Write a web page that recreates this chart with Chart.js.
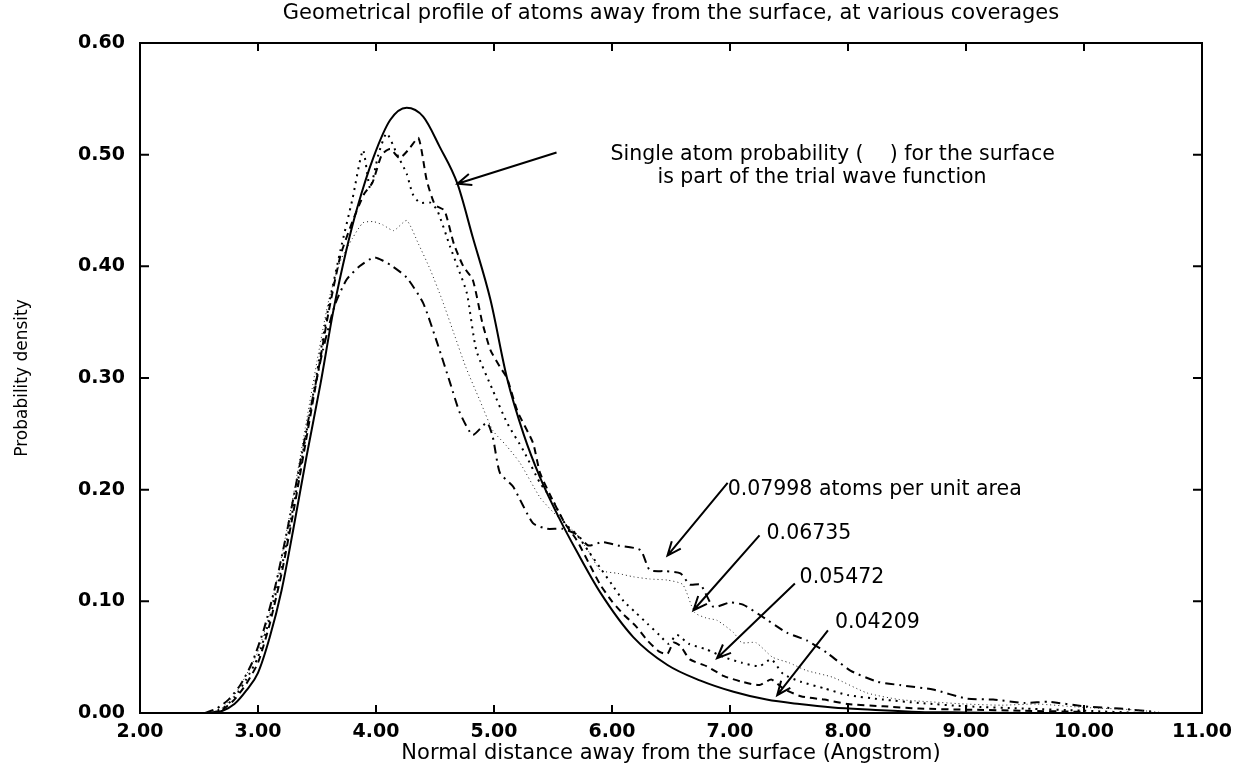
<html>
<head>
<meta charset="utf-8">
<title>Geometrical profile of atoms</title>
<script src="https://cdn.jsdelivr.net/npm/chart.js@4.4.1/dist/chart.umd.min.js"></script>
<style>
  body { margin: 0; background: #fff; }
  .chart-container { width: 1235px; height: 767px; position: relative; }
</style>
</head>
<body>
<div class="chart-container"><canvas id="myChart"></canvas></div>
<script>
// x ticks / y ticks
const xTicks = [2, 3, 4, 5, 6, 7, 8, 9, 10, 11];
const yTicks = [0, 0.1, 0.2, 0.3, 0.4, 0.5, 0.6];

// single atom probability (trial wave function), solid
const trialX = [2.60, 2.70, 2.80, 2.90, 3.00, 3.10, 3.20, 3.30, 3.41, 3.53, 3.64, 3.75, 3.84, 3.98, 4.12, 4.26, 4.40, 4.54, 4.69, 4.82, 4.97, 5.11, 5.25, 5.39, 5.55, 5.70, 5.90, 6.18, 6.47, 6.75, 7.03, 7.31, 7.59, 7.87, 8.20, 8.60, 9.00, 9.50, 10.00];
const trialY = [0.000, 0.002, 0.008, 0.020, 0.036, 0.068, 0.110, 0.165, 0.229, 0.295, 0.361, 0.415, 0.452, 0.498, 0.531, 0.542, 0.534, 0.507, 0.474, 0.426, 0.370, 0.300, 0.250, 0.211, 0.175, 0.145, 0.108, 0.068, 0.043, 0.029, 0.019, 0.012, 0.008, 0.005, 0.003, 0.001, 0.0005, 0, 0];

// 0.04209 atoms per unit area, dashed
const c04209X = [2.60, 2.70, 2.80, 2.90, 3.00, 3.10, 3.20, 3.30, 3.40, 3.50, 3.60, 3.70, 3.80, 3.90, 3.97, 4.05, 4.12, 4.20, 4.28, 4.36, 4.43, 4.50, 4.58, 4.66, 4.74, 4.82, 4.90, 4.97, 5.05, 5.11, 5.20, 5.33, 5.39, 5.50, 5.60, 5.70, 5.80, 5.90, 6.00, 6.10, 6.20, 6.30, 6.40, 6.47, 6.52, 6.58, 6.66, 6.80, 6.95, 7.10, 7.25, 7.35, 7.45, 7.60, 7.80, 8.00, 8.30, 8.60, 9.00, 9.50, 10.00];
const c04209Y = [0, 0.003, 0.012, 0.026, 0.045, 0.080, 0.125, 0.180, 0.240, 0.300, 0.360, 0.410, 0.440, 0.465, 0.475, 0.500, 0.505, 0.497, 0.505, 0.515, 0.477, 0.455, 0.450, 0.420, 0.400, 0.388, 0.350, 0.325, 0.310, 0.300, 0.270, 0.242, 0.215, 0.190, 0.170, 0.155, 0.135, 0.115, 0.100, 0.088, 0.078, 0.065, 0.055, 0.053, 0.063, 0.060, 0.048, 0.042, 0.033, 0.028, 0.025, 0.030, 0.022, 0.015, 0.012, 0.008, 0.006, 0.004, 0.003, 0.002, 0.001];

// 0.05472, dotted
const c05472X = [2.60, 2.70, 2.80, 2.90, 3.00, 3.10, 3.20, 3.30, 3.40, 3.50, 3.60, 3.70, 3.80, 3.89, 3.95, 4.02, 4.09, 4.18, 4.26, 4.31, 4.37, 4.46, 4.52, 4.63, 4.69, 4.77, 4.85, 4.99, 5.11, 5.25, 5.39, 5.50, 5.60, 5.70, 5.80, 5.90, 6.00, 6.10, 6.20, 6.30, 6.40, 6.48, 6.55, 6.65, 6.80, 6.95, 7.10, 7.25, 7.35, 7.45, 7.60, 7.80, 8.00, 8.30, 8.60, 9.00, 9.50, 10.00, 10.50];
const c05472Y = [0, 0.004, 0.014, 0.030, 0.050, 0.085, 0.130, 0.185, 0.245, 0.305, 0.365, 0.415, 0.460, 0.504, 0.470, 0.500, 0.519, 0.500, 0.483, 0.465, 0.457, 0.457, 0.450, 0.417, 0.400, 0.376, 0.325, 0.289, 0.260, 0.235, 0.206, 0.190, 0.170, 0.160, 0.145, 0.130, 0.115, 0.100, 0.090, 0.080, 0.070, 0.062, 0.070, 0.062, 0.057, 0.050, 0.045, 0.042, 0.048, 0.035, 0.028, 0.022, 0.016, 0.012, 0.009, 0.006, 0.004, 0.002, 0];

// 0.06735, fine dots
const c06735X = [2.60, 2.70, 2.80, 2.90, 3.00, 3.10, 3.20, 3.30, 3.40, 3.50, 3.60, 3.70, 3.80, 3.89, 3.98, 4.06, 4.15, 4.26, 4.36, 4.46, 4.56, 4.66, 4.76, 4.88, 4.99, 5.10, 5.22, 5.39, 5.50, 5.60, 5.70, 5.80, 5.90, 6.05, 6.18, 6.32, 6.47, 6.60, 6.70, 6.80, 6.89, 7.03, 7.10, 7.22, 7.36, 7.50, 7.65, 7.87, 8.16, 8.44, 8.70, 9.00, 9.30, 9.60, 10.00, 10.40, 10.70];
const c06735Y = [0, 0.005, 0.016, 0.034, 0.055, 0.090, 0.140, 0.195, 0.255, 0.315, 0.370, 0.405, 0.425, 0.439, 0.440, 0.437, 0.432, 0.441, 0.420, 0.397, 0.370, 0.340, 0.310, 0.280, 0.253, 0.240, 0.224, 0.193, 0.180, 0.170, 0.160, 0.145, 0.128, 0.125, 0.122, 0.120, 0.119, 0.115, 0.090, 0.085, 0.083, 0.072, 0.063, 0.063, 0.050, 0.045, 0.038, 0.032, 0.018, 0.012, 0.010, 0.008, 0.007, 0.008, 0.005, 0.003, 0];

// 0.07998, dash-dot
const c07998X = [2.55, 2.65, 2.75, 2.85, 2.95, 3.05, 3.15, 3.25, 3.35, 3.45, 3.55, 3.65, 3.75, 3.86, 3.98, 4.06, 4.14, 4.26, 4.40, 4.52, 4.63, 4.71, 4.82, 4.94, 4.99, 5.05, 5.16, 5.33, 5.45, 5.58, 5.70, 5.80, 5.92, 6.05, 6.24, 6.32, 6.45, 6.58, 6.66, 6.75, 6.86, 7.00, 7.11, 7.25, 7.48, 7.65, 7.82, 8.02, 8.25, 8.44, 8.72, 9.00, 9.23, 9.50, 9.70, 10.00, 10.30, 10.60];
const c07998Y = [0, 0.004, 0.012, 0.025, 0.045, 0.075, 0.115, 0.165, 0.220, 0.275, 0.325, 0.365, 0.388, 0.400, 0.408, 0.405, 0.400, 0.390, 0.367, 0.331, 0.295, 0.269, 0.249, 0.260, 0.247, 0.215, 0.203, 0.170, 0.165, 0.165, 0.160, 0.150, 0.153, 0.150, 0.146, 0.128, 0.127, 0.125, 0.115, 0.115, 0.095, 0.099, 0.097, 0.088, 0.072, 0.065, 0.054, 0.038, 0.028, 0.025, 0.021, 0.013, 0.012, 0.009, 0.010, 0.006, 0.004, 0.001];

const chartTitle = 'Geometrical profile of atoms away from the surface, at various coverages';
const xTitle = 'Normal distance away from the surface (Angstrom)';
const yTitle = 'Probability density';

// notes: text, anchor (data), arrow from -> to (data)
const notes = [
  { text: 'Single atom probability (    ) for the surface', at: [7.87, 0.500], align: 'center', from: [5.53, 0.502], to: [4.69, 0.474] },
  { text: 'is part of the trial wave function', at: [7.78, 0.479], align: 'center' },
  { text: '0.07998 atoms per unit area', at: [6.98, 0.200], align: 'left', from: [6.98, 0.206], to: [6.47, 0.141] },
  { text: '0.06735', at: [7.31, 0.161], align: 'left', from: [7.25, 0.159], to: [6.69, 0.092] },
  { text: '0.05472', at: [7.59, 0.121], align: 'left', from: [7.55, 0.116], to: [6.89, 0.049] },
  { text: '0.04209', at: [7.89, 0.081], align: 'left', from: [7.83, 0.074], to: [7.40, 0.016] }
];

function pts(xs, ys) {
  return xs.map(function (x, i) { return { x: x, y: ys[i] }; });
}

Chart.defaults.font.family = "'DejaVu Sans', sans-serif";
Chart.defaults.color = '#000';

// frame, inward ticks, title and arrows
const decor = {
  id: 'decor',
  afterDraw: function (chart) {
    const ctx = chart.ctx;
    const a = chart.chartArea;
    const sx = chart.scales.x, sy = chart.scales.y;
    ctx.save();
    ctx.strokeStyle = '#000';
    ctx.lineWidth = 2;
    ctx.setLineDash([]);
    ctx.strokeRect(a.left, a.top, a.right - a.left, a.bottom - a.top);
    ctx.beginPath();
    xTicks.forEach(function (v) {
      const px = sx.getPixelForValue(v);
      ctx.moveTo(px, a.bottom); ctx.lineTo(px, a.bottom - 8);
      ctx.moveTo(px, a.top); ctx.lineTo(px, a.top + 8);
    });
    yTicks.forEach(function (v) {
      const py = sy.getPixelForValue(v);
      ctx.moveTo(a.left, py); ctx.lineTo(a.left + 9, py);
      ctx.moveTo(a.right, py); ctx.lineTo(a.right - 9, py);
    });
    ctx.stroke();

    ctx.fillStyle = '#000';
    ctx.font = "21px 'DejaVu Sans'";
    ctx.textAlign = 'center';
    ctx.textBaseline = 'middle';
    ctx.fillText(chartTitle, (a.left + a.right) / 2, 14);

    ctx.font = "20.5px 'DejaVu Sans'";
    notes.forEach(function (n) {
      ctx.textAlign = n.align;
      ctx.fillText(n.text, sx.getPixelForValue(n.at[0]), sy.getPixelForValue(n.at[1]));
      if (!n.from) return;
      const x0 = sx.getPixelForValue(n.from[0]), y0 = sy.getPixelForValue(n.from[1]);
      const x1 = sx.getPixelForValue(n.to[0]), y1 = sy.getPixelForValue(n.to[1]);
      const ang = Math.atan2(y1 - y0, x1 - x0);
      ctx.beginPath();
      ctx.moveTo(x0, y0); ctx.lineTo(x1, y1);
      ctx.moveTo(x1 - 15 * Math.cos(ang - 0.4), y1 - 15 * Math.sin(ang - 0.4));
      ctx.lineTo(x1, y1);
      ctx.lineTo(x1 - 15 * Math.cos(ang + 0.4), y1 - 15 * Math.sin(ang + 0.4));
      ctx.stroke();
    });
    ctx.restore();
  }
};

const ctx = document.getElementById('myChart').getContext('2d');
const chart = new Chart(ctx, {
  type: 'line',
  data: {
    datasets: [
      { label: 'trial', data: pts(trialX, trialY), borderColor: '#000', borderWidth: 2, tension: 0.4, cubicInterpolationMode: 'monotone' },
      { label: '0.04209', data: pts(c04209X, c04209Y), borderColor: '#000', borderWidth: 2, borderDash: [7, 5], tension: 0.2 },
      { label: '0.05472', data: pts(c05472X, c05472Y), borderColor: '#000', borderWidth: 2, borderDash: [2, 5], tension: 0.2 },
      { label: '0.06735', data: pts(c06735X, c06735Y), borderColor: '#222', borderWidth: 1, borderDash: [1, 3], tension: 0.2 },
      { label: '0.07998', data: pts(c07998X, c07998Y), borderColor: '#000', borderWidth: 2, borderDash: [9, 5, 2, 5], tension: 0.2 }
    ]
  },
  options: {
    responsive: true,
    maintainAspectRatio: false,
    animation: false,
    devicePixelRatio: 1,
    elements: { point: { radius: 0 } },
    layout: { padding: { left: 0, right: 33, top: 43, bottom: 0 } },
    plugins: { legend: { display: false }, tooltip: { enabled: false } },
    scales: {
      x: {
        type: 'linear', min: 2, max: 11,
        afterBuildTicks: function (s) { s.ticks = xTicks.map(function (v) { return { value: v }; }); },
        afterFit: function (s) { s.height = 54; s.paddingLeft = 0; s.paddingRight = 0; },
        grid: { display: false, drawTicks: false },
        border: { display: false },
        ticks: { font: { size: 19, weight: 'bold' }, padding: 8, maxRotation: 0, callback: function (v) { return v.toFixed(2); } },
        title: { display: true, text: xTitle, font: { size: 21 }, padding: { top: 0, bottom: 1 } }
      },
      y: {
        min: 0, max: 0.6,
        afterBuildTicks: function (s) { s.ticks = yTicks.map(function (v) { return { value: v }; }); },
        afterFit: function (s) { s.width = 140; },
        grid: { display: false, drawTicks: false },
        border: { display: false },
        ticks: { font: { size: 19, weight: 'bold' }, padding: 15, callback: function (v) { return v.toFixed(2); } },
        title: { display: true, text: yTitle, font: { size: 17 }, padding: { top: 12, bottom: 0 } }
      }
    }
  },
  plugins: [decor]
});
</script>
</body>
</html>
